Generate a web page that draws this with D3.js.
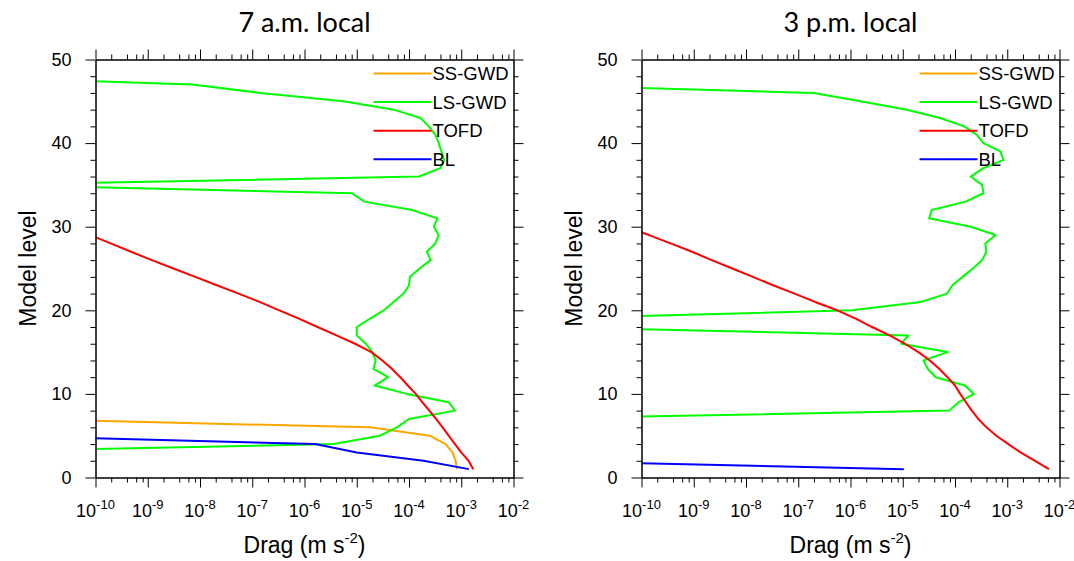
<!DOCTYPE html>
<html>
<head>
<meta charset="utf-8">
<script src="https://cdn.jsdelivr.net/npm/d3@7"></script>
<style>
  body { margin: 0; background: #fff; }
  svg { display: block; }
  .tick-label, .legend-label, .axis-title { font-family: "Liberation Sans", Arial, sans-serif; fill: #000; }
  .panel-title { font-family: Lato, "Open Sans", sans-serif; fill: #000; }
</style>
</head>
<body>
<svg id="chart" width="1074" height="561"></svg>
<script>
// drag profiles by model level (index 0 = level 1), m s-2
const amSS = [8.3e-4, 7.8e-4, 6.8e-4, 5.0e-4, 2.5e-4, 1.8e-5, 3e-12];
const amLS = [
  1e-13, 1e-13, 1e-13, 3.6e-6, 2.8e-5, 5.9e-5, 1.0e-4, 7.6e-4, 5.8e-4, 9.1e-5,
  2.2e-5, 4.0e-5, 2.1e-5, 2.3e-5, 2.0e-5, 1.5e-5, 1.0e-5, 1.0e-5, 1.8e-5, 3.3e-5,
  5.1e-5, 7.9e-5, 1.0e-4, 1.05e-4, 1.6e-4, 2.6e-4, 2.2e-4, 3.2e-4, 3.7e-4, 3.0e-4,
  3.5e-4, 1.15e-4, 1.4e-5, 8.1e-6, 1e-12, 1.55e-4, 4.0e-4, 4.7e-4, 4.2e-4, 3.7e-4,
  3.2e-4, 2.4e-4, 1.66e-4, 5.1e-5, 5.6e-6, 1.45e-7, 7.1e-9, 1.6e-13,
];
const amTOFD = [
  1.7e-3, 1.38e-3, 1.0e-3, 7.6e-4, 5.75e-4, 4.4e-4, 3.3e-4, 2.45e-4, 1.8e-4, 1.35e-4,
  9.5e-5, 6.8e-5, 4.7e-5, 3.1e-5, 1.9e-5, 9.3e-6, 4.1e-6, 1.78e-6, 7.8e-7, 3.3e-7,
  1.38e-7, 5.5e-8, 2.1e-8, 8.1e-9, 3.1e-9, 1.2e-9, 4.8e-10, 1.95e-10, 7.9e-11, 3.2e-11,
];
const amBL = [1.4e-3, 1.9e-4, 1.0e-5, 1.6e-6, 1.5e-12];

const pmSS = [];
const pmLS = [
  1e-13, 1e-13, 1e-13, 1e-13, 1e-13, 1e-13, 4e-13, 7.8e-5, 1.17e-4, 2.3e-4,
  1.55e-4, 4.3e-5, 3.0e-5, 2.5e-5, 7.2e-5, 9.3e-6, 1.3e-5, 1.6e-12, 1e-12, 1.07e-6,
  2.2e-5, 7.1e-5, 8.9e-5, 1.4e-4, 2.2e-4, 3.3e-4, 4.0e-4, 3.8e-4, 6.0e-4, 2.0e-4,
  3.2e-5, 3.6e-5, 1.6e-4, 3.5e-4, 3.3e-4, 2.0e-4, 3.5e-4, 8.5e-4, 7.4e-4, 3.5e-4,
  2.6e-4, 1.5e-4, 5.2e-5, 1.2e-5, 1.55e-6, 2.0e-7, 6e-13,
];
const pmTOFD = [
  6.3e-3, 3.4e-3, 1.8e-3, 1.05e-3, 6.2e-4, 4.0e-4, 2.8e-4, 2.1e-4, 1.62e-4, 1.26e-4,
  1.0e-4, 7.2e-5, 5.0e-5, 3.3e-5, 2.0e-5, 1.1e-5, 5.6e-6, 2.6e-6, 1.26e-6, 5.6e-7,
  2.1e-7, 8.5e-8, 3.3e-8, 1.35e-8, 5.5e-9, 2.2e-9, 9.3e-10, 3.6e-10, 1.4e-10, 5e-11,
];
const pmBL = [1.05e-5, 9e-13];

const seriesNames = ["SS-GWD", "LS-GWD", "TOFD", "BL"];
const seriesColors = ["#ffa500", "#00ff00", "#ff0000", "#0000ff"];
const panelTitles = ["7 a.m. local", "3 p.m. local"];
const panelData = [
  [amSS, amLS, amTOFD, amBL],
  [pmSS, pmLS, pmTOFD, pmBL],
];
const xTickExps = [-10, -9, -8, -7, -6, -5, -4, -3, -2];
const xMinorMult = [2, 4, 6, 8];
const yTicks = [0, 10, 20, 30, 40, 50];
const yMinor = d3.range(0, 51, 2).filter((v) => v % 10 !== 0);

const svg = d3.select("#chart");
const plotW = 418;
const plotTop = 59.5,
  plotBottom = 477.5;
const panelLefts = [95.5, 641.5];

const y = d3.scaleLinear().domain([0, 50]).range([plotBottom, plotTop]);

panelLefts.forEach((left, pi) => {
  const x = d3.scaleLog().domain([1e-10, 1e-2]).range([left, left + plotW]);
  const g = svg.append("g");

  const majors = xTickExps.map((e) => Math.pow(10, e));
  const minors = [];
  xTickExps.slice(0, -1).forEach((e) => {
    xMinorMult.forEach((m) => minors.push(m * Math.pow(10, e)));
  });

  // clip for data lines
  const clipId = "clip" + pi;
  svg
    .append("clipPath")
    .attr("id", clipId)
    .append("rect")
    .attr("x", left)
    .attr("y", plotTop)
    .attr("width", plotW)
    .attr("height", plotBottom - plotTop);

  const line = d3
    .line()
    .x((d) => x(d.v))
    .y((d) => y(d.lev));

  const lines = g.append("g").attr("clip-path", `url(#${clipId})`);
  panelData[pi].forEach((vals, si) => {
    if (!vals.length) return;
    lines
      .append("path")
      .datum(vals.map((v, i) => ({ lev: i + 1, v: v })))
      .attr("fill", "none")
      .attr("stroke", seriesColors[si])
      .attr("stroke-width", 2)
      .attr("stroke-linejoin", "round")
      .attr("d", line);
  });

  // axes, ticks outward on all four sides
  function addAxis(axisFn, scale, vals, size, transform) {
    g.append("g")
      .attr("transform", transform)
      .call(
        axisFn(scale).tickValues(vals).tickSize(size).tickSizeOuter(0).tickFormat("")
      )
      .call((a) => a.selectAll("line").attr("stroke", "#000"))
      .call((a) => a.select(".domain").attr("stroke", "#000"));
  }
  addAxis(d3.axisBottom, x, majors, 10, `translate(0,${plotBottom})`);
  addAxis(d3.axisBottom, x, minors, 5, `translate(0,${plotBottom})`);
  addAxis(d3.axisTop, x, majors, 10, `translate(0,${plotTop})`);
  addAxis(d3.axisTop, x, minors, 5, `translate(0,${plotTop})`);
  addAxis(d3.axisLeft, y, yTicks, 10, `translate(${left},0)`);
  addAxis(d3.axisLeft, y, yMinor, 5, `translate(${left},0)`);
  addAxis(d3.axisRight, y, yTicks, 10, `translate(${left + plotW},0)`);
  addAxis(d3.axisRight, y, yMinor, 5, `translate(${left + plotW},0)`);

  // x tick labels 10^n
  xTickExps.forEach((e) => {
    const t = g
      .append("text")
      .attr("class", "tick-label")
      .attr("x", x(Math.pow(10, e)))
      .attr("y", 517)
      .attr("text-anchor", "middle")
      .attr("font-size", 18);
    t.append("tspan").text("10");
    t.append("tspan").attr("font-size", 13).attr("dy", -8).text(e);
  });

  // y tick labels
  g.selectAll(".ylab")
    .data(yTicks)
    .join("text")
    .attr("class", "tick-label")
    .attr("x", left - 24)
    .attr("y", (d) => y(d))
    .attr("dy", "0.35em")
    .attr("text-anchor", "end")
    .attr("font-size", 18)
    .text((d) => d);

  // titles
  g.append("text")
    .attr("class", "panel-title")
    .attr("x", left + plotW / 2)
    .attr("y", 32)
    .attr("text-anchor", "middle")
    .attr("font-size", 27)
    .text(panelTitles[pi]);

  const xt = g
    .append("text")
    .attr("class", "axis-title")
    .attr("x", left + plotW / 2)
    .attr("y", 553)
    .attr("text-anchor", "middle")
    .attr("font-size", 23);
  xt.append("tspan").text("Drag (m s");
  xt.append("tspan").attr("font-size", 15).attr("dy", -10).text("-2");
  xt.append("tspan").attr("dy", 10).text(")");

  g.append("text")
    .attr("class", "axis-title")
    .attr("transform", `translate(${left - 60},${(plotTop + plotBottom) / 2}) rotate(-90)`)
    .attr("text-anchor", "middle")
    .attr("font-size", 23)
    .text("Model level");

  // legend
  const legX = left + plotW - 140;
  seriesNames.forEach((name, si) => {
    const ly = 73.5 + si * 28.6;
    g.append("line")
      .attr("x1", legX)
      .attr("x2", legX + 58)
      .attr("y1", ly)
      .attr("y2", ly)
      .attr("stroke", seriesColors[si])
      .attr("stroke-width", 2);
    g.append("text")
      .attr("class", "legend-label")
      .attr("x", legX + 59)
      .attr("y", ly)
      .attr("dy", "0.36em")
      .attr("font-size", 18.5)
      .text(name);
  });
});
</script>
</body>
</html>
